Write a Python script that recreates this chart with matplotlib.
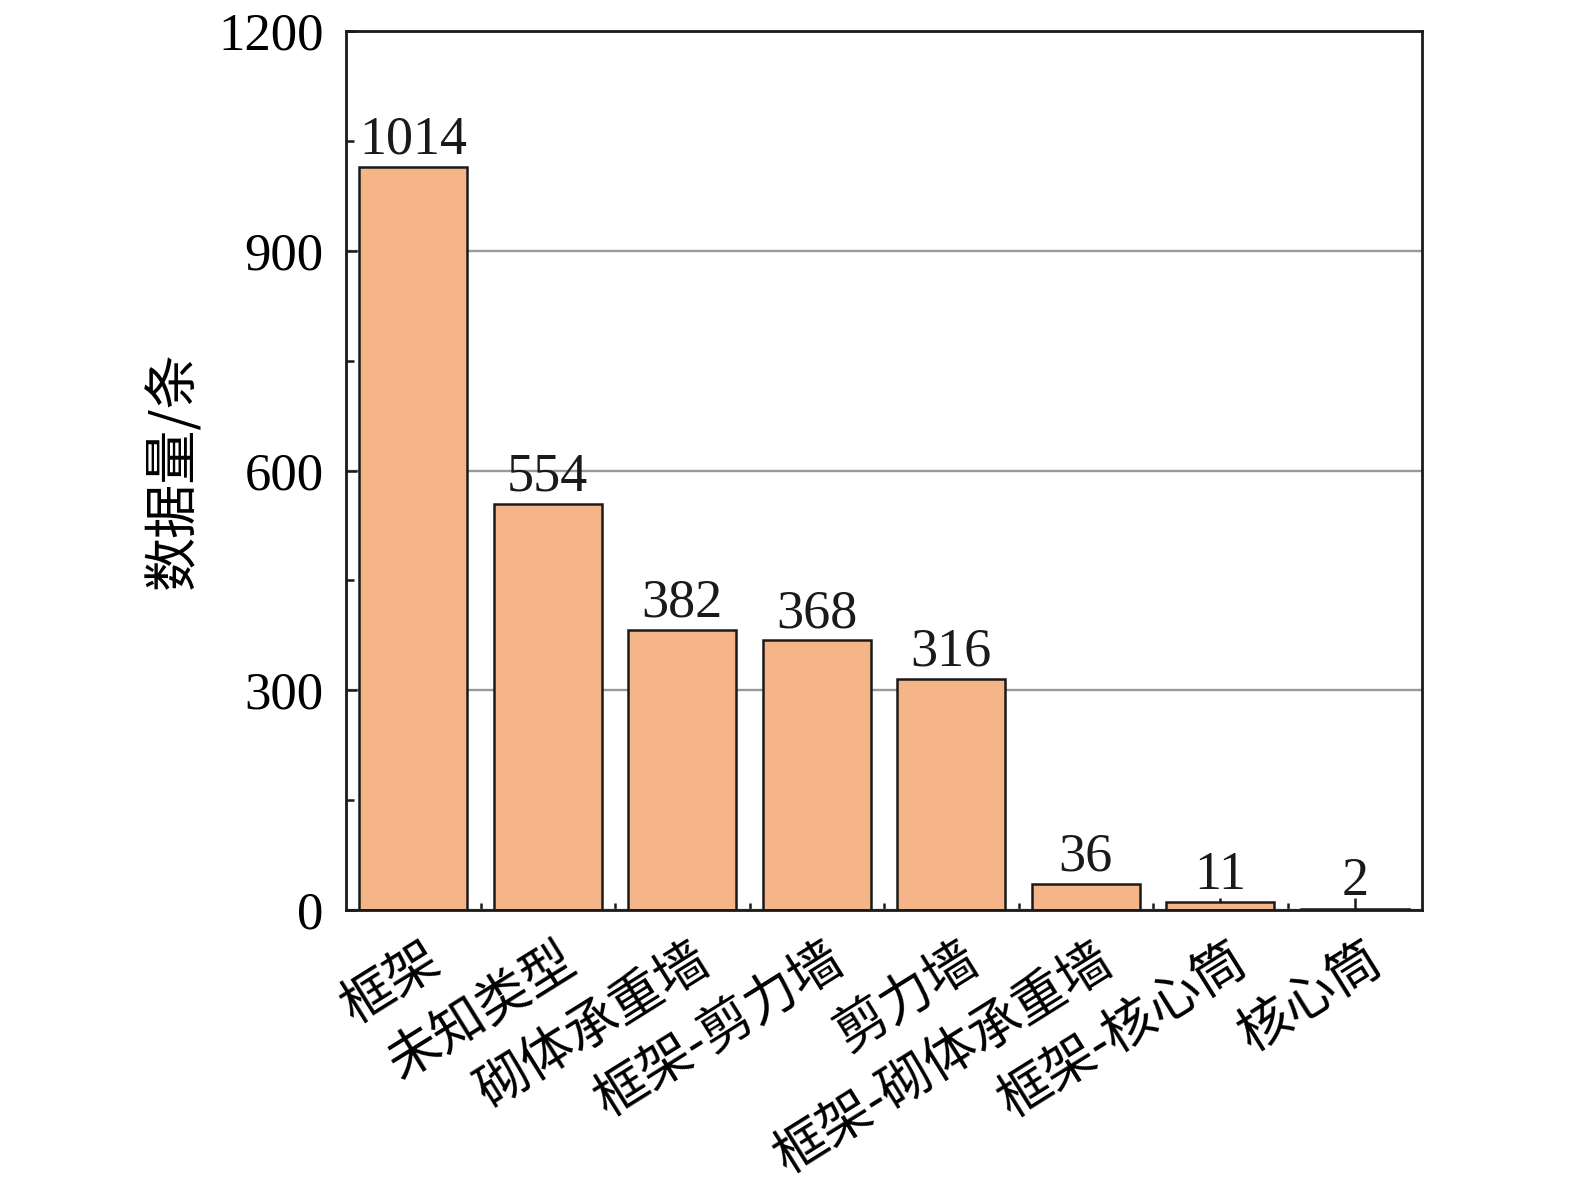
import matplotlib
matplotlib.use('Agg')
import matplotlib.pyplot as plt
import matplotlib.transforms as mtransforms
from matplotlib.ticker import MultipleLocator, FixedLocator

plt.rcParams['font.family'] = ['Liberation Serif', 'Noto Sans CJK SC', 'DejaVu Sans']

# данные
categories = ['框架', '未知类型', '砌体承重墙', '框架-剪力墙', '剪力墙',
              '框架-砌体承重墙', '框架-核心筒', '核心筒']
counts = [1014, 554, 382, 368, 316, 36, 11, 2]
y_ticks = [0, 300, 600, 900, 1200]

fig = plt.figure(figsize=(15.75, 11.94), dpi=100)
ax = fig.add_axes([346 / 1575, 1 - 910 / 1194, (1422 - 346) / 1575, (910 - 31) / 1194])

x = list(range(len(categories)))
bars = ax.bar(x, counts, width=0.8, color='#F6B589', edgecolor='#1a1a1a',
              linewidth=1.8, zorder=2)
ax.bar_label(bars, labels=[str(c) for c in counts], padding=1, fontsize=39,
             family='Liberation Serif', color='#1a1a1a')

ax.set_xlim(-0.5, len(categories) - 0.5)
ax.set_ylim(0, 1200)
ax.set_yticks(y_ticks)
ax.yaxis.set_minor_locator(MultipleLocator(150))
ax.set_yticklabels([str(v) for v in y_ticks], fontsize=38)
ax.grid(True, axis='y', color='#999999', linewidth=1.7, zorder=0)
ax.set_axisbelow(True)

ax.set_xticks(x)
ax.xaxis.set_minor_locator(FixedLocator([i + 0.5 for i in x[:-1]]))

ax.tick_params(axis='both', which='both', direction='in', color='#1a1a1a', width=1.8)
ax.tick_params(axis='y', which='major', length=8, pad=16)
ax.tick_params(axis='y', which='minor', length=6)
ax.tick_params(axis='x', which='major', length=9, pad=16)
ax.tick_params(axis='x', which='minor', length=5)

# подписи категорий — после tick_params, иначе сдвиг сбрасывается
ax.set_xticklabels(categories, fontsize=38, family=['Noto Sans CJK SC', 'Liberation Serif'],
                   rotation=32, ha='right', va='top')
offset = mtransforms.ScaledTranslation(0.37, 0, fig.dpi_scale_trans)
for lbl in ax.get_xticklabels():
    lbl.set_transform(lbl.get_transform() + offset)

for s in ax.spines.values():
    s.set_linewidth(2.0)
    s.set_color('#1a1a1a')
    s.set_zorder(3)

ax.set_ylabel('数据量/条', fontsize=39, family=['Noto Sans CJK SC', 'Liberation Serif'],
              labelpad=12)

fig.savefig('out.png', dpi=100)
plt.close(fig)
